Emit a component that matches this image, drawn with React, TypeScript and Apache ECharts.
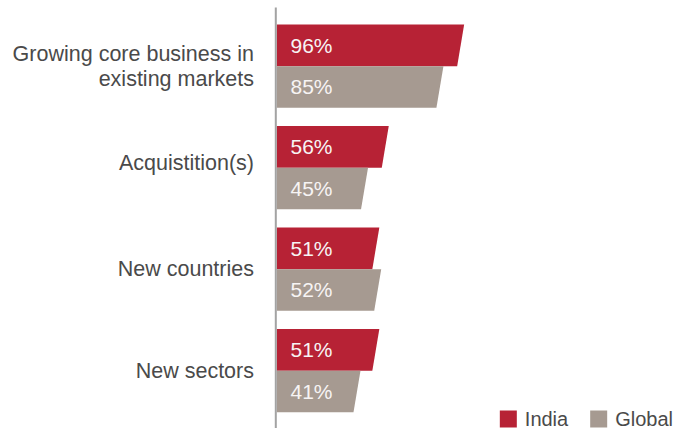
import React, { useEffect, useRef } from "react";
import * as echarts from "echarts";

const categories = [
  "Growing core business in\nexisting markets",
  "Acquistition(s)",
  "New countries",
  "New sectors",
];
const seriesNames = ["India", "Global"];
const indiaValues = [96, 56, 51, 51];
const globalValues = [85, 45, 52, 41];

const RED = "#b72235";
const GRAY = "#a69a91";
const FONT = "'Liberation Sans', Arial, Helvetica, sans-serif";

function makeRender(position: "upper" | "lower") {
  return (params: any, api: any) => {
    const v = api.value(0);
    const c = api.value(1);
    const end = api.coord([v, c]);
    const start = api.coord([0, c]);
    const band = api.size([0, 1])[1];
    const h = band * 0.41;
    const yTop = position === "upper" ? end[1] - h : end[1];
    const yBot = position === "upper" ? end[1] : end[1] + h;
    const mid = end[0] + 3.7;
    const slant = 7;
    const x0 = start[0] + 0.8;
    return {
      type: "group",
      children: [
        {
          type: "polygon",
          shape: {
            points: [
              [x0, yTop],
              [mid + slant / 2, yTop],
              [mid - slant / 2, yBot],
              [x0, yBot],
            ],
          },
          style: { fill: api.visual("color") },
        },
        {
          type: "text",
          x: start[0] + 14.5,
          y: (yTop + yBot) / 2,
          style: {
            text: v + "%",
            fill: "#f7f4f4",
            fontSize: 21,
            fontFamily: FONT,
            verticalAlign: "middle",
            align: "left",
          },
        },
      ],
    };
  };
}

export default function App() {
  const ref = useRef<HTMLDivElement>(null);
  useEffect(() => {
    document.body.style.margin = "0";
    const chart = echarts.init(ref.current!, null, { renderer: "svg" });
    chart.setOption({
      animation: false,
      textStyle: { fontFamily: FONT },
      grid: { left: 276, width: 188.5, top: 15.4, height: 406 },
      xAxis: {
        type: "value",
        min: 0,
        max: 100,
        show: false,
      },
      yAxis: {
        type: "category",
        data: categories,
        inverse: true,
        axisLine: { show: false },
        axisTick: { show: false },
        axisLabel: {
          margin: 22,
          fontSize: 21.5,
          lineHeight: 25,
          color: "#4a4a4a",
          fontFamily: FONT,
          align: "right",
          formatter: (val: string, idx: number) =>
            idx === 1 ? "{up|" + val + "}" : val,
          rich: {
            up: {
              fontSize: 21.5,
              lineHeight: 25,
              color: "#4a4a4a",
              fontFamily: FONT,
              padding: [0, 0, 10, 0],
            },
          },
        },
      },
      legend: {
        data: seriesNames,
        right: 7,
        top: 409,
        icon: "rect",
        itemWidth: 17,
        itemHeight: 17,
        itemGap: 22,
        padding: 0,
        textStyle: {
          fontSize: 20,
          lineHeight: 17,
          color: "#4a4a4a",
          fontFamily: FONT,
          padding: [0, 0, 0, 3],
        },
      },
      graphic: [
        {
          type: "line",
          shape: { x1: 275.8, y1: 7.5, x2: 275.8, y2: 428 },
          style: { stroke: "#a3a3a3", lineWidth: 2 },
          z: 10,
        },
      ],
      series: [
        {
          name: seriesNames[0],
          type: "custom",
          itemStyle: { color: RED },
          encode: { x: 0, y: 1 },
          renderItem: makeRender("upper"),
          data: indiaValues.map((v, i) => [v, i]),
        },
        {
          name: seriesNames[1],
          type: "custom",
          itemStyle: { color: GRAY },
          encode: { x: 0, y: 1 },
          renderItem: makeRender("lower"),
          data: globalValues.map((v, i) => [v, i]),
        },
      ],
    });
    return () => chart.dispose();
  }, []);
  return <div ref={ref} style={{ width: 680, height: 428 }} />;
}
